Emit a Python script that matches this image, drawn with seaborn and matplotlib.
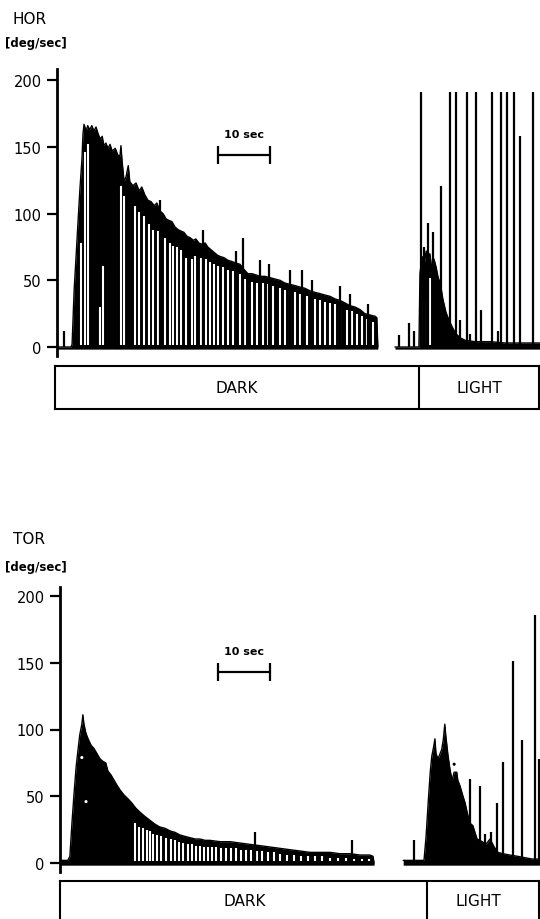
import numpy as np
import pandas as pd
import matplotlib
matplotlib.use("Agg")
import matplotlib.pyplot as plt
import seaborn as sns

# ---------------- data (time in sec, velocity in deg/sec) ----------------
panel_names = ["HOR", "TOR"]
unit_label = "[deg/sec]"
y_ticks = [0, 50, 100, 150, 200]
condition_labels = ["DARK", "LIGHT"]
scale_label = "10 sec"
scale_len = 10

# HOR, dark period envelope
hor_dark_t = [0.0, 2.7, 2.9, 3.3, 3.7, 4.0, 4.4, 4.8, 5.0, 5.2, 5.6, 5.9, 6.3, 6.7, 7.1, 7.5, 7.9, 8.3, 8.7, 9.0,
              9.4, 9.8, 10.2, 10.6, 11.2, 11.7, 12.1, 12.3, 12.5, 12.9, 13.3, 13.7, 14.0, 14.6, 15.2, 15.8, 16.3,
              16.9, 17.5, 18.1, 18.7, 19.2, 19.8, 20.4, 21.0, 21.5, 22.1, 22.7, 23.3, 23.8, 24.4, 25.0, 25.6, 26.2,
              26.7, 27.3, 27.9, 28.5, 29.0, 29.6, 30.2, 30.8, 31.3, 32.1, 32.9, 33.7, 34.4, 35.2, 36.0, 36.7, 37.5,
              38.3, 39.0, 40.0, 41.0, 41.9, 42.9, 43.8, 44.8, 45.8, 46.7, 47.7, 48.7, 49.6, 50.6, 51.5, 52.5, 53.5,
              54.4, 55.4, 56.3, 57.3, 58.3, 59.2, 60.2, 61.2, 61.5, 61.7]
hor_dark_v = [0, 0, 2, 43, 70, 91, 118, 141, 160, 167, 162, 166, 163, 166, 162, 165, 160, 156, 158, 151,
              153, 149, 152, 147, 149, 144, 143, 151, 140, 124, 128, 136, 124, 121, 123, 117, 120,
              114, 110, 109, 106, 108, 102, 100, 96, 95, 94, 90, 88, 87, 86, 83, 82, 80,
              81, 78, 77, 78, 75, 73, 71, 69, 68, 67, 65, 64, 63, 62, 58, 55, 55,
              54, 53, 53, 52, 51, 50, 48, 47, 46, 45, 44, 42, 41, 40, 39, 38, 36,
              35, 33, 31, 30, 28, 25, 24, 23, 22, 0]
# HOR, light period envelope
hor_light_t = [65.0, 69.6, 69.8, 70.2, 70.6, 71.0, 71.3, 71.7, 72.1, 72.5, 72.9, 73.3, 73.7, 74.2, 74.8, 75.4,
               76.0, 76.7, 77.5, 78.5, 80.4, 83.3, 86.2, 89.0, 92.9]
hor_light_v = [0, 0, 55, 68, 62, 72, 64, 70, 58, 66, 60, 52, 48, 36, 26, 20,
               15, 10, 7, 5, 4, 4, 3, 3, 3]
# HOR, spikes (beat tips and saccadic artefacts)
hor_spike_t = [1.3, 19.8, 28.1, 34.4, 35.8, 39.0, 40.8, 44.8, 47.1, 49.0, 54.4, 56.3, 59.8,
               65.8, 67.7, 68.7, 70.0, 70.6, 71.3, 72.3, 73.8, 75.6, 76.7, 77.5, 78.8, 79.4, 80.6, 81.5,
               83.7, 84.8, 85.4, 86.5, 87.9, 89.0, 91.5]
hor_spike_v = [12, 110, 88, 72, 82, 65, 62, 58, 58, 50, 46, 40, 32,
               9, 18, 12, 191, 75, 93, 86, 121, 191, 191, 20, 191, 10, 191, 28,
               191, 12, 191, 191, 191, 158, 191]
# HOR, quick-phase gaps (white)
hor_gap_t = [4.6, 5.3, 6.0, 8.3, 8.9, 12.4, 12.9, 15.0, 15.8, 16.8, 17.6, 18.5, 19.5, 20.8, 21.7, 22.4, 23.0,
             23.8, 24.9, 25.9, 26.5, 27.7, 28.6, 29.4, 30.2, 31.0, 31.9, 32.9, 33.8, 35.2, 36.2, 37.5, 38.5,
             39.6, 40.6, 41.5, 42.9, 43.8, 44.8, 45.8, 46.7, 48.1, 49.6, 50.6, 51.5, 52.5, 53.5, 54.4, 55.8,
             56.7, 57.7, 58.7, 59.6, 60.8, 70.5, 71.8]
hor_gap_v = [78, 146, 152, 30, 61, 121, 113, 106, 101, 98, 92, 88, 87, 82, 78, 76, 75,
             73, 67, 66, 68, 67, 66, 64, 62, 61, 60, 58, 57, 55, 51, 49, 48,
             48, 47, 46, 44, 43, 42, 41, 40, 38, 36, 35, 34, 33, 32, 30, 28,
             27, 25, 23, 21, 19, 35, 52]

# TOR, dark period envelope
tor_dark_t = [0.0, 1.5, 1.9, 2.3, 2.7, 3.1, 3.5, 3.8, 4.2, 4.4, 4.6, 5.0, 5.4, 6.0, 6.5, 7.1, 7.7, 8.3, 8.8, 9.2,
              9.8, 10.4, 11.0, 11.5, 12.3, 13.1, 13.8, 14.6, 15.4, 16.3, 17.3, 18.3, 19.2, 20.2, 21.2, 22.1,
              23.1, 24.0, 25.0, 26.0, 26.9, 27.9, 28.8, 30.8, 32.7, 34.6, 36.5, 38.5, 40.4, 42.3, 44.2, 46.2,
              48.1, 50.0, 51.9, 53.8, 55.8, 57.7, 59.6, 60.2, 60.4]
tor_dark_v = [2, 2, 5, 30, 52, 72, 86, 96, 104, 111, 104, 97, 93, 88, 86, 82, 78, 76, 75, 69,
              66, 62, 58, 55, 51, 48, 45, 41, 38, 35, 32, 29, 27, 26, 24, 23,
              21, 20, 19, 18, 18, 17, 17, 16, 16, 15, 14, 13, 12, 11, 10, 9,
              8, 8, 8, 7, 7, 6, 6, 5, 0]
# TOR, light period envelope
tor_light_t = [66.0, 70.0, 70.4, 70.8, 71.2, 71.5, 71.9, 72.1, 72.3, 72.7, 73.1, 73.4, 73.7, 74.0, 74.2, 74.6,
               75.0, 75.4, 75.8, 76.3, 76.5, 76.9, 77.5, 77.9, 78.3, 78.8, 79.4, 80.2, 81.2, 81.9, 82.7, 83.5,
               84.2, 85.2, 86.5, 88.1, 89.4, 90.8, 92.3]
tor_light_v = [2, 2, 20, 45, 68, 80, 88, 93, 82, 78, 82, 85, 92, 104, 95, 81,
               70, 62, 68, 68, 62, 58, 50, 45, 38, 30, 28, 18, 16, 14, 18, 12,
               8, 7, 6, 5, 4, 3, 3]
# TOR, spikes
tor_spike_t = [37.5, 56.2, 68.1, 78.8, 80.8, 81.7, 82.9, 84.0, 85.2, 87.1, 88.8, 91.3, 92.1]
tor_spike_v = [23, 17, 17, 63, 58, 22, 23, 45, 76, 151, 92, 186, 78]
# TOR, quick-phase gaps (white)
tor_gap_t = [14.4, 15.2, 16.0, 16.7, 17.3, 17.9, 18.7, 19.4, 20.4, 21.3, 22.1, 22.9, 23.7, 24.6, 25.4, 26.2,
             26.9, 27.7, 28.5, 29.2, 30.0, 31.0, 31.9, 32.9, 33.8, 34.8, 35.8, 36.7, 37.9, 38.8, 40.0, 41.2,
             42.3, 43.7, 45.0, 46.3, 47.7, 49.0, 50.4, 51.9, 53.5, 55.0, 56.5, 58.1, 59.4]
tor_gap_v = [30, 27, 26, 25, 24, 22, 21, 20, 19, 18, 17, 16, 15, 14, 14, 13,
             13, 12, 12, 12, 12, 11, 11, 11, 11, 10, 10, 10, 9, 9, 8, 8,
             7, 6, 6, 5, 5, 5, 5, 4, 4, 4, 3, 3, 3]
# TOR, isolated dots
tor_dot_t = [4.2, 5.0, 75.8]
tor_dot_v = [79, 46, 74]
tor_dot_c = ["white", "white", "black"]

# ---------------- figure ----------------
sns.set_style("ticks")
plt.rcParams["font.family"] = ["DejaVu Sans"]
plt.rcParams["text.color"] = "black"
plt.rcParams["axes.labelcolor"] = "black"
plt.rcParams["ytick.color"] = "black"

W, H = 540, 920
fig = plt.figure(figsize=(W / 100, H / 100), dpi=100)


def fx(px):
    return px / W


def fy(py):
    return 1 - py / H


def draw_panel(rect, xlim, ylim, segments, spk_t, spk_v, gap_t, gap_v, bar_y, bar_x0):
    ax = fig.add_axes(rect)
    for t, v in segments:
        df = pd.DataFrame({"t": t, "v": v})
        ax.fill_between(df["t"], -1.6, df["v"], color="black", lw=0)
        sns.lineplot(data=df, x="t", y="v", ax=ax, color="black", lw=1.0,
                     estimator=None, sort=False)
    ax.vlines(gap_t, 1.2, gap_v, color="white", lw=1.5)
    ax.vlines(spk_t, 0, spk_v, color="black", lw=1.6)
    ax.set_xlim(*xlim)
    ax.set_ylim(*ylim)
    ax.set_xlabel("")
    ax.set_ylabel("")
    ax.set_xticks([])
    ax.set_yticks(y_ticks)
    ax.set_yticklabels([str(v) for v in y_ticks])
    for s in ["top", "right", "bottom"]:
        ax.spines[s].set_visible(False)
    ax.spines["left"].set_linewidth(2.0)
    ax.spines["left"].set_color("black")
    ax.tick_params(axis="y", direction="out", length=7, width=1.6, labelsize=10.5,
                   colors="black", labelcolor="black", pad=4)
    ax.patch.set_alpha(0)
    # 10 sec scale bar
    ax.plot([bar_x0, bar_x0 + scale_len], [bar_y, bar_y], color="black", lw=1.6)
    ax.vlines([bar_x0, bar_x0 + scale_len], bar_y - 6.5, bar_y + 6.5, color="black", lw=1.6)
    ax.text(bar_x0 + scale_len / 2, bar_y + 12, scale_label, ha="center", va="bottom",
            fontsize=8, fontweight="bold", color="black")
    return ax


def draw_box(rect, split, dark_xy, light_xy):
    bx = fig.add_axes(rect)
    bx.set_xlim(0, 1)
    bx.set_ylim(0, 1)
    bx.set_xticks([])
    bx.set_yticks([])
    for s in bx.spines.values():
        s.set_visible(True)
        s.set_linewidth(1.5)
        s.set_color("black")
    bx.axvline(split, color="black", lw=1.5)
    bx.text(*dark_xy, condition_labels[0], ha="center", va="center", fontsize=11, color="black")
    bx.text(*light_xy, condition_labels[1], ha="center", va="center", fontsize=11, color="black")
    bx.patch.set_alpha(0)
    return bx


# top panel (HOR)
draw_panel([fx(57), fy(357), (540 - 57) / W, 287 / H], (0, 483 / 5.2), (-6.75, 208.5),
           [(hor_dark_t, hor_dark_v), (hor_light_t, hor_light_v)],
           hor_spike_t, hor_spike_v, hor_gap_t, hor_gap_v, bar_y=144, bar_x0=31.0)
draw_box([fx(55), fy(410), 484 / W, 43 / H], 0.752, (0.376, 0.49), (0.876, 0.49))
fig.text(fx(13), fy(19), panel_names[0], ha="left", va="center", fontsize=11, color="black")
fig.text(fx(5), fy(44), unit_label, ha="left", va="center", fontsize=8.5, fontweight="bold",
         color="black")

# bottom panel (TOR)
ax2 = draw_panel([fx(60), fy(873), (540 - 60) / W, 285 / H], (0, 480 / 5.2), (-6.7, 206.7),
                 [(tor_dark_t, tor_dark_v), (tor_light_t, tor_light_v)],
                 tor_spike_t, tor_spike_v, tor_gap_t, tor_gap_v, bar_y=143, bar_x0=30.4)
ax2.scatter(tor_dot_t, tor_dot_v, s=5, c=tor_dot_c, linewidths=0, zorder=5)
draw_box([fx(60), fy(935), 479 / W, 53 / H], 0.766, (0.386, 0.64), (0.873, 0.64))
fig.text(fx(13), fy(540), panel_names[1], ha="left", va="center", fontsize=11, color="black")
fig.text(fx(5), fy(568), unit_label, ha="left", va="center", fontsize=8.5, fontweight="bold",
         color="black")

fig.savefig("out.png", dpi=100, facecolor="white")
